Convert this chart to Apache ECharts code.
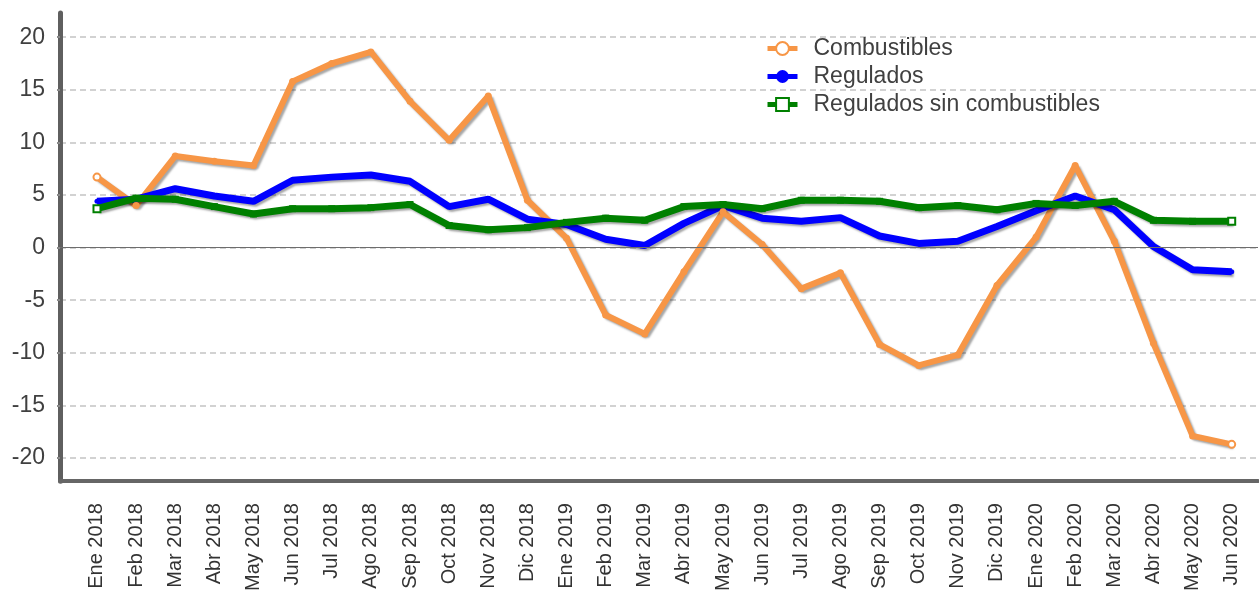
<!DOCTYPE html>
<html>
<head>
<meta charset="utf-8">
<script src="https://cdn.jsdelivr.net/npm/echarts@6/dist/echarts.min.js"></script>
<style>
  html, body { margin: 0; padding: 0; background: #fff; }
  #chart { width: 1259px; height: 594px; }
</style>
</head>
<body>
<div id="chart"></div>
<script>
// Monthly year-over-year variation (%), Jan 2018 – Jun 2020
const categories = [
  'Ene 2018', 'Feb 2018', 'Mar 2018', 'Abr 2018', 'May 2018', 'Jun 2018',
  'Jul 2018', 'Ago 2018', 'Sep 2018', 'Oct 2018', 'Nov 2018', 'Dic 2018',
  'Ene 2019', 'Feb 2019', 'Mar 2019', 'Abr 2019', 'May 2019', 'Jun 2019',
  'Jul 2019', 'Ago 2019', 'Sep 2019', 'Oct 2019', 'Nov 2019', 'Dic 2019',
  'Ene 2020', 'Feb 2020', 'Mar 2020', 'Abr 2020', 'May 2020', 'Jun 2020'
];

const combustibles = [
  6.7, 4.0, 8.7, 8.2, 7.8, 15.8, 17.5, 18.6, 13.9, 10.2, 14.4, 4.5,
  0.9, -6.4, -8.2, -2.3, 3.4, 0.3, -3.9, -2.4, -9.2, -11.2, -10.2, -3.6,
  1.0, 7.8, 0.6, -9.1, -17.9, -18.7
];

const regulados = [
  4.4, 4.6, 5.6, 4.9, 4.4, 6.4, 6.7, 6.9, 6.3, 3.9, 4.6, 2.7,
  2.2, 0.8, 0.2, 2.3, 4.0, 2.8, 2.5, 2.85, 1.1, 0.4, 0.6, 2.0,
  3.5, 4.9, 3.6, 0.1, -2.1, -2.3
];

const reguladosSinCombustibles = [
  3.7, 4.7, 4.6, 3.9, 3.2, 3.7, 3.7, 3.8, 4.1, 2.1, 1.7, 1.9,
  2.4, 2.8, 2.6, 3.9, 4.1, 3.7, 4.5, 4.5, 4.4, 3.8, 4.0, 3.6,
  4.2, 4.0, 4.4, 2.6, 2.5, 2.5
];

const yTickLabels = ['-20', '-15', '-10', '-5', '0', '5', '10', '15', '20'];

const FONT = '"Liberation Sans", Arial, sans-serif';
const TEXT = '#404040';

// [index, value] points; inner points get a filled marker, the end points keep
// the series' hollow marker when one is given
function toPoints(values, innerSymbol) {
  return values.map((v, i) => {
    const p = { value: [i, v] };
    if (innerSymbol && i > 0 && i < values.length - 1) {
      p.symbol = innerSymbol;
    }
    return p;
  });
}

const shadow = {
  shadowColor: 'rgba(0,0,0,0.35)',
  shadowBlur: 2,
  shadowOffsetX: 2,
  shadowOffsetY: 2
};

function lineSeries(name, values, color, width, symbol, innerSymbol, size) {
  return {
    name: name,
    type: 'line',
    data: toPoints(values, innerSymbol),
    symbol: symbol,
    symbolSize: size,
    showAllSymbol: true,
    lineStyle: Object.assign({ color: color, width: width }, shadow),
    itemStyle: { color: color },
    emphasis: { disabled: true },
    animation: false
  };
}

const chart = echarts.init(document.getElementById('chart'), null, { renderer: 'canvas' });

const series = [
  lineSeries('Combustibles', combustibles, '#F79646', 6, 'emptyCircle', 'circle', 7),
  lineSeries('Regulados', regulados, '#0000FF', 7, 'circle', null, 5),
  lineSeries('Regulados sin combustibles', reguladosSinCombustibles, '#008000', 7, 'emptyRect', 'rect', 7)
];

// zero reference line
series[0].markLine = {
  silent: true,
  symbol: 'none',
  label: { show: false },
  lineStyle: { color: '#6d6d6d', type: 'solid', width: 1 },
  data: [{ yAxis: 0 }],
  animation: false
};

chart.setOption({
  backgroundColor: '#ffffff',
  animation: false,
  grid: { left: 60, right: 1, top: 13, bottom: 112, containLabel: false },
  legend: {
    orient: 'vertical',
    left: 765,
    top: 37,
    padding: 0,
    itemWidth: 30,
    itemHeight: 16,
    itemGap: 5,
    selectedMode: false,
    lineStyle: { width: 5, shadowBlur: 0, shadowOffsetX: 0, shadowOffsetY: 0 },
    itemStyle: { borderWidth: 2.5 },
    textStyle: {
      fontFamily: FONT,
      fontSize: 23,
      color: TEXT,
      lineHeight: 23,
      padding: [0, 0, 0, 11]
    },
    data: ['Combustibles', 'Regulados', 'Regulados sin combustibles']
  },
  xAxis: {
    type: 'value',
    min: -0.945,
    max: 29.672,
    axisLine: { show: true, onZero: false, lineStyle: { color: '#666666', width: 4 } },
    axisTick: { show: false },
    splitLine: { show: false },
    axisLabel: {
      customValues: categories.map((c, i) => i),
      formatter: (v) => categories[Math.round(v)] || '',
      rotate: 90,
      margin: 22,
      fontFamily: FONT,
      fontSize: 20,
      color: '#333333'
    }
  },
  yAxis: {
    type: 'value',
    min: -22.2,
    max: 22.3,
    splitNumber: 9,
    axisLine: { show: true, onZero: false, lineStyle: { color: '#5f5f5f', width: 5 } },
    axisTick: { show: true, length: 3, lineStyle: { color: '#888888', width: 2 } },
    splitLine: {
      show: true,
      showMinLine: false,
      showMaxLine: false,
      lineStyle: { color: '#c4c4c4', type: [6, 4], width: 1.5 }
    },
    axisLabel: {
      showMinLabel: false,
      showMaxLabel: false,
      margin: 15,
      fontFamily: FONT,
      fontSize: 23,
      color: TEXT,
      formatter: (v) => (yTickLabels.indexOf(String(v)) >= 0 ? String(v) : '')
    }
  },
  series: series
});
</script>
</body>
</html>
